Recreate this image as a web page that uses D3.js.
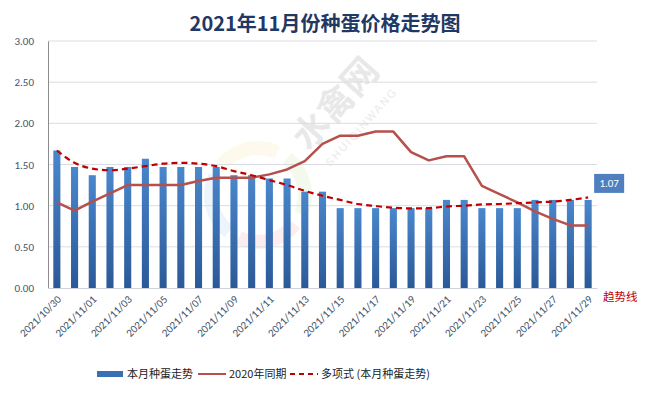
<!DOCTYPE html>
<html><head><meta charset="utf-8">
<script src="https://cdn.jsdelivr.net/npm/d3@7"></script>
<style>body{margin:0;background:#fff;}svg{display:block;font-family:"Microsoft YaHei","Noto Sans CJK SC",sans-serif;}</style>
</head><body><svg id="c" width="646" height="398"></svg>
<script>
const dates = ["2021/10/30","2021/10/31","2021/11/01","2021/11/02","2021/11/03","2021/11/04","2021/11/05","2021/11/06","2021/11/07","2021/11/08","2021/11/09","2021/11/10","2021/11/11","2021/11/12","2021/11/13","2021/11/14","2021/11/15","2021/11/16","2021/11/17","2021/11/18","2021/11/19","2021/11/20","2021/11/21","2021/11/22","2021/11/23","2021/11/24","2021/11/25","2021/11/26","2021/11/27","2021/11/28","2021/11/29"];
const thisMonth = [1.67,1.47,1.37,1.47,1.47,1.57,1.47,1.47,1.47,1.47,1.37,1.37,1.33,1.33,1.17,1.17,0.97,0.97,0.97,0.97,0.97,0.97,1.07,1.07,0.97,0.97,0.97,1.07,1.07,1.07,1.07];
const lastYear = [1.04,0.94,1.05,1.15,1.25,1.25,1.25,1.25,1.30,1.34,1.34,1.34,1.38,1.44,1.54,1.75,1.85,1.85,1.90,1.90,1.65,1.55,1.60,1.60,1.24,1.14,1.04,0.93,0.84,0.76,0.76];
const trend = [1.67,1.52,1.45,1.43,1.45,1.48,1.51,1.52,1.51,1.48,1.42,1.37,1.31,1.25,1.18,1.12,1.07,1.02,0.995,0.975,0.967,0.97,0.99,1.0,1.015,1.02,1.03,1.04,1.05,1.07,1.10];
const yTicks = [0,0.5,1,1.5,2,2.5,3];
const title = "2021年11月份种蛋价格走势图";
const legendLabels = ["本月种蛋走势","2020年同期","多项式 (本月种蛋走势)"];

const svg = d3.select("#c");
const defs = svg.append("defs");
const g1 = defs.append("linearGradient").attr("id","bg").attr("x1",0).attr("y1",0).attr("x2",0).attr("y2",1);
g1.append("stop").attr("offset","0%").attr("stop-color","#4a87cc");
g1.append("stop").attr("offset","100%").attr("stop-color","#2b5998");

const L = 48, R = 597, T = 41, B = 288;
const x = d3.scaleBand().domain(dates).range([L,R]).paddingInner(0.6).paddingOuter(0.3);
const y = d3.scaleLinear().domain([0,3]).range([B,T]);

// title
svg.append("text").attr("x",325).attr("y",31).attr("text-anchor","middle")
  .attr("font-size",20).attr("font-weight","bold").attr("fill","#1f3864").text(title);

// watermark (logo ring + text)
const ringColors = ["#f5c842","#8cc63f","#e8504a","#4a90d9"];
const arc = d3.arc().innerRadius(40).outerRadius(54);
const ring = svg.append("g").attr("transform","translate(258,195)").attr("opacity",0.09);
ringColors.forEach((c,i)=>{
  ring.append("path").attr("d",arc({startAngle:-0.9+i*Math.PI/2,endAngle:-0.9+(i+1)*Math.PI/2-0.25})).attr("fill",c);
});
const wm = svg.append("g").attr("opacity",0.16).attr("transform","translate(345,112) rotate(-48)");
wm.append("text").attr("text-anchor","middle").attr("font-size",36).attr("font-weight","bold").attr("fill","#777").text("水禽网");
wm.append("text").attr("y",26).attr("text-anchor","middle").attr("font-size",11).attr("letter-spacing",2).attr("fill","#777").attr("font-family","'Liberation Sans',sans-serif").text("SHUIQINWANG");

// grid
svg.append("g").selectAll("line").data(yTicks.filter(d=>d>0)).join("line")
  .attr("x1",L).attr("x2",R).attr("y1",d=>y(d)).attr("y2",d=>y(d))
  .attr("stroke","#d9dde3").attr("stroke-width",1);

// y axis
const ya = svg.append("g").attr("transform",`translate(${L},0)`)
  .call(d3.axisLeft(y).tickValues(yTicks).tickFormat(d3.format(".2f")).tickSize(0).tickPadding(14));
ya.select(".domain").attr("stroke","#8c8c8c");
ya.selectAll("text").attr("font-size",11).attr("fill","#44546a").attr("font-family","Calibri,Carlito,'Liberation Sans',sans-serif");

// bars
svg.append("g").selectAll("rect").data(thisMonth).join("rect")
  .attr("x",(d,i)=>x(dates[i])).attr("width",x.bandwidth())
  .attr("y",d=>y(d)).attr("height",d=>B-y(d)).attr("fill","url(#bg)");

// x axis
const xa = svg.append("g").attr("transform",`translate(0,${B})`)
  .call(d3.axisBottom(x).tickValues(dates.filter((d,i)=>i%2===0)).tickSize(0).tickPadding(0));
xa.select(".domain").attr("stroke","#d0d4da");
xa.selectAll("text").attr("font-size",11).attr("fill","#44546a")
  .attr("font-family","Calibri,Carlito,'Liberation Sans',sans-serif")
  .attr("text-anchor","end").attr("dy",0).attr("transform","translate(5,12) rotate(-45)");

const cx = (i)=>x(dates[i])+x.bandwidth()/2;

// 2020 line
svg.append("path").datum(lastYear)
  .attr("d",d3.line().x((d,i)=>cx(i)).y(d=>y(d)))
  .attr("fill","none").attr("stroke","#b5504c").attr("stroke-width",2.5).attr("stroke-linejoin","round");

// trend line
svg.append("path").datum(trend)
  .attr("d",d3.line().x((d,i)=>cx(i)).y(d=>y(d)).curve(d3.curveMonotoneX))
  .attr("fill","none").attr("stroke","#c00000").attr("stroke-width",2.2).attr("stroke-dasharray","6,4");

// last value label
const last = thisMonth[thisMonth.length-1];
const lx = cx(thisMonth.length-1)+6, ly = y(last)-26;
svg.append("rect").attr("x",lx).attr("y",ly).attr("width",30).attr("height",19).attr("fill","#4f7fbe");
svg.append("text").attr("x",lx+15).attr("y",ly+13.5).attr("text-anchor","middle").attr("font-size",11)
  .attr("fill","#fff").attr("font-family","Calibri,Carlito,'Liberation Sans',sans-serif").text(d3.format(".2f")(last));

// 趋势线 note
svg.append("text").attr("x",603).attr("y",301).attr("font-size",11.5).attr("fill","#c00000").text("趋势线");

// legend
const lg = svg.append("g").attr("transform","translate(0,374)");
lg.append("rect").attr("x",97).attr("y",-3).attr("width",26).attr("height",6).attr("fill","#3a6fb4");
lg.append("text").attr("x",127).attr("y",4).attr("font-size",11).attr("fill","#222").text(legendLabels[0]);
lg.append("line").attr("x1",198).attr("x2",226).attr("stroke","#b5504c").attr("stroke-width",2);
lg.append("text").attr("x",229).attr("y",4).attr("font-size",11).attr("fill","#222").text(legendLabels[1]);
lg.append("line").attr("x1",290).attr("x2",318).attr("stroke","#c00000").attr("stroke-width",2).attr("stroke-dasharray","5,4");
lg.append("text").attr("x",321).attr("y",4).attr("font-size",11).attr("fill","#222").text(legendLabels[2]);
</script></body></html>
